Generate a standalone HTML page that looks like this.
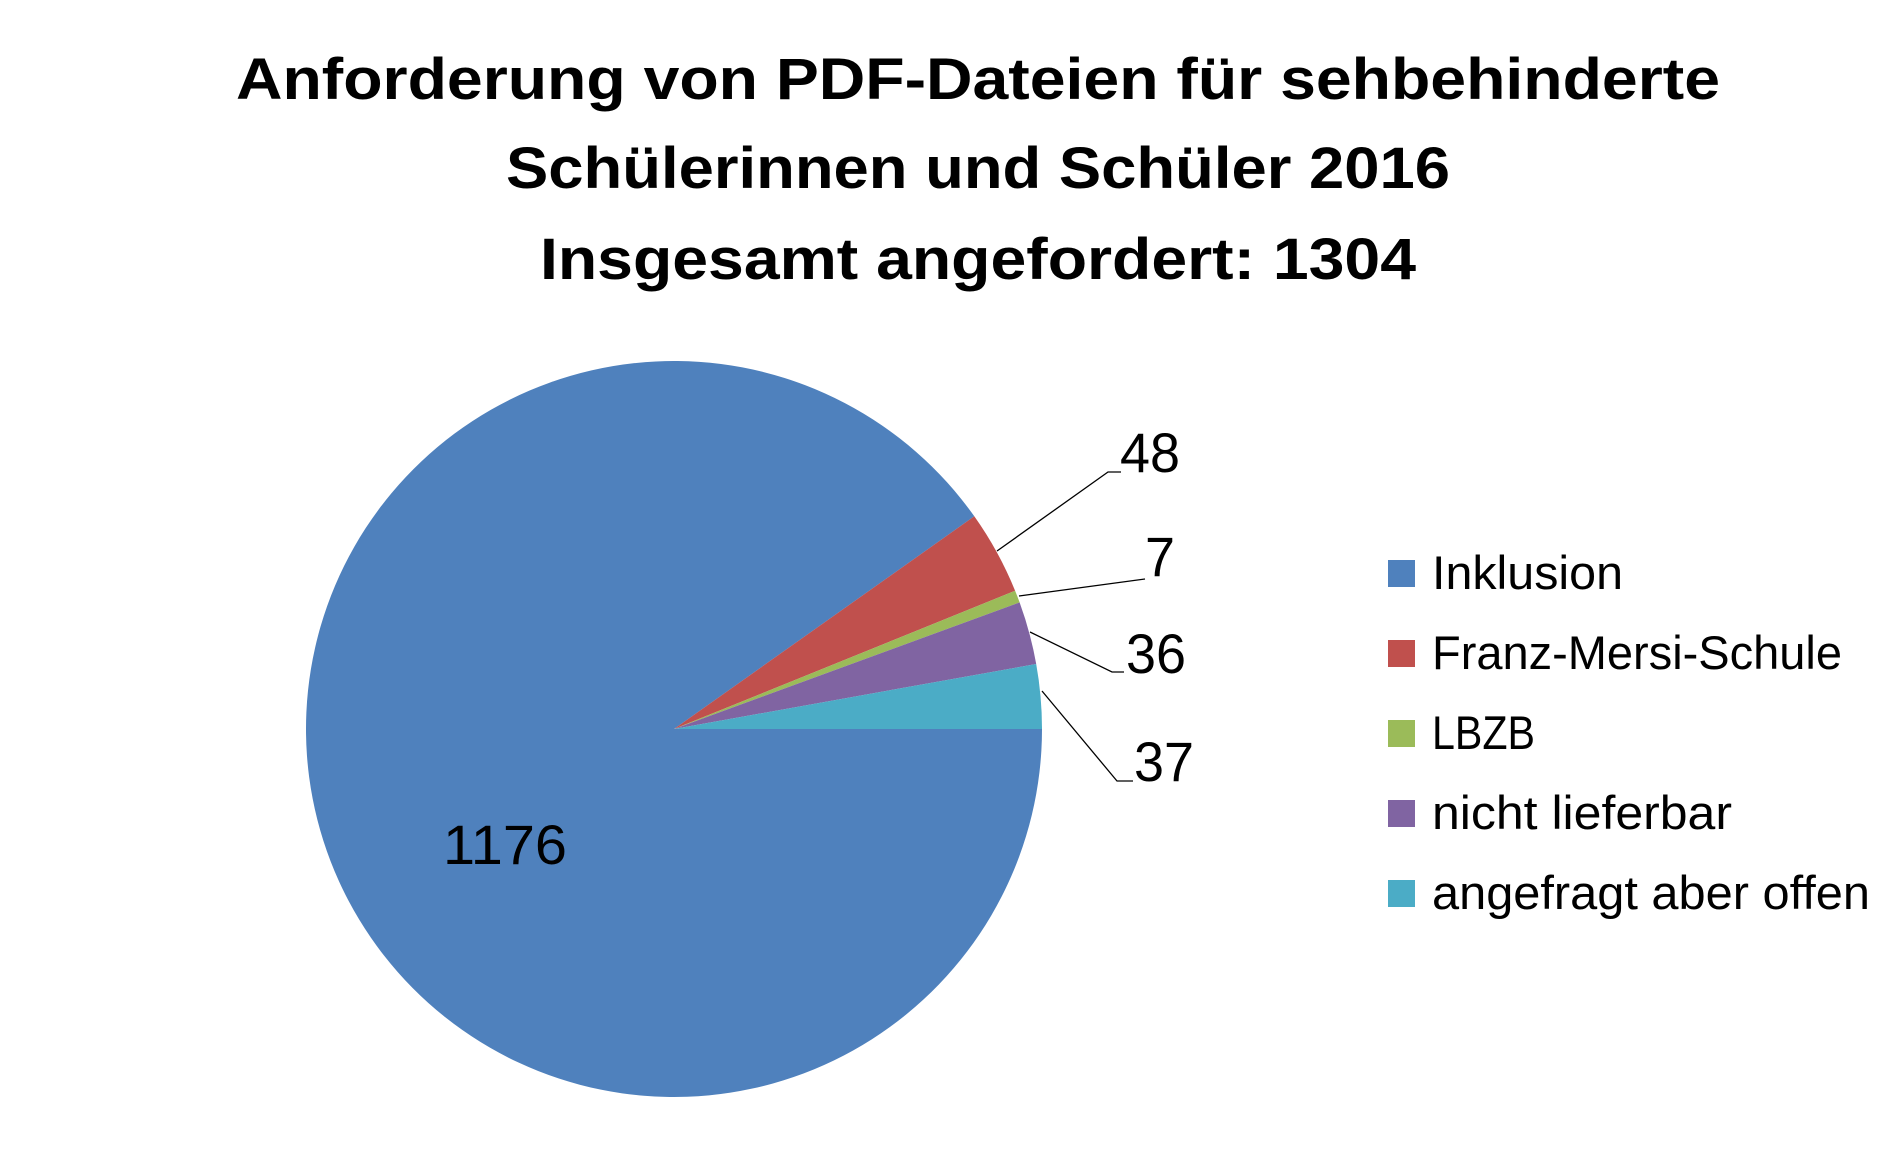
<!DOCTYPE html>
<html><head><meta charset="utf-8"><style>
html,body{margin:0;padding:0;background:#fff;}
svg{display:block;}
text{font-family:"Liberation Sans",sans-serif;}
</style></head><body>
<svg width="1890" height="1168" viewBox="0 0 1890 1168" xmlns="http://www.w3.org/2000/svg">
<g font-weight="bold" font-size="58" fill="#000" text-anchor="middle">
<text x="978" y="99" textLength="1484" lengthAdjust="spacingAndGlyphs">Anforderung von PDF-Dateien für sehbehinderte</text>
<text x="978" y="188" textLength="944" lengthAdjust="spacingAndGlyphs">Schülerinnen und Schüler 2016</text>
<text x="978" y="279" textLength="876" lengthAdjust="spacingAndGlyphs">Insgesamt angefordert: 1304</text>
</g>
<g transform="translate(-4,0)">
<path d="M678,729 L1046,729 A368,368 0 1 1 978.3,516.3 Z" fill="#4F81BD"/>
<path d="M678,729 L978.3,516.3 A368,368 0 0 1 1019.1,590.8 Z" fill="#C0504D"/>
<path d="M678,729 L1019.1,590.8 A368,368 0 0 1 1023.6,602.4 Z" fill="#9BBB59"/>
<path d="M678,729 L1023.6,602.4 A368,368 0 0 1 1040.2,664.0 Z" fill="#8064A2"/>
<path d="M678,729 L1040.2,664.0 A368,368 0 0 1 1046,729 Z" fill="#4BACC6"/>
</g>
<g stroke="#000" stroke-width="1.3" fill="none">
<polyline points="997,551 1108,472 1121,472"/>
<polyline points="1019,596 1145,579"/>
<polyline points="1030,632 1112,672 1124,672"/>
<polyline points="1042,691 1117,781 1133,781"/>
</g>
<g font-size="56" fill="#000">
<text x="1120" y="472" textLength="60" lengthAdjust="spacingAndGlyphs">48</text>
<text x="1145" y="576" textLength="30" lengthAdjust="spacingAndGlyphs">7</text>
<text x="1126" y="673" textLength="60" lengthAdjust="spacingAndGlyphs">36</text>
<text x="1134" y="781" textLength="60" lengthAdjust="spacingAndGlyphs">37</text>
<text x="443" y="864" textLength="124" lengthAdjust="spacingAndGlyphs">1176</text>
</g>
<g font-size="47" fill="#000">
<rect x="1388" y="560" width="27" height="27" fill="#4F81BD"/>
<text x="1432" y="589" textLength="191" lengthAdjust="spacingAndGlyphs">Inklusion</text>
<rect x="1388" y="640" width="27" height="27" fill="#C0504D"/>
<text x="1432" y="669" textLength="410" lengthAdjust="spacingAndGlyphs">Franz-Mersi-Schule</text>
<rect x="1388" y="720" width="27" height="27" fill="#9BBB59"/>
<text x="1432" y="749" textLength="103" lengthAdjust="spacingAndGlyphs">LBZB</text>
<rect x="1388" y="800" width="27" height="27" fill="#8064A2"/>
<text x="1432" y="829" textLength="300" lengthAdjust="spacingAndGlyphs">nicht lieferbar</text>
<rect x="1388" y="880" width="27" height="27" fill="#4BACC6"/>
<text x="1432" y="909" textLength="438" lengthAdjust="spacingAndGlyphs">angefragt aber offen</text>
</g>
</svg>
</body></html>
